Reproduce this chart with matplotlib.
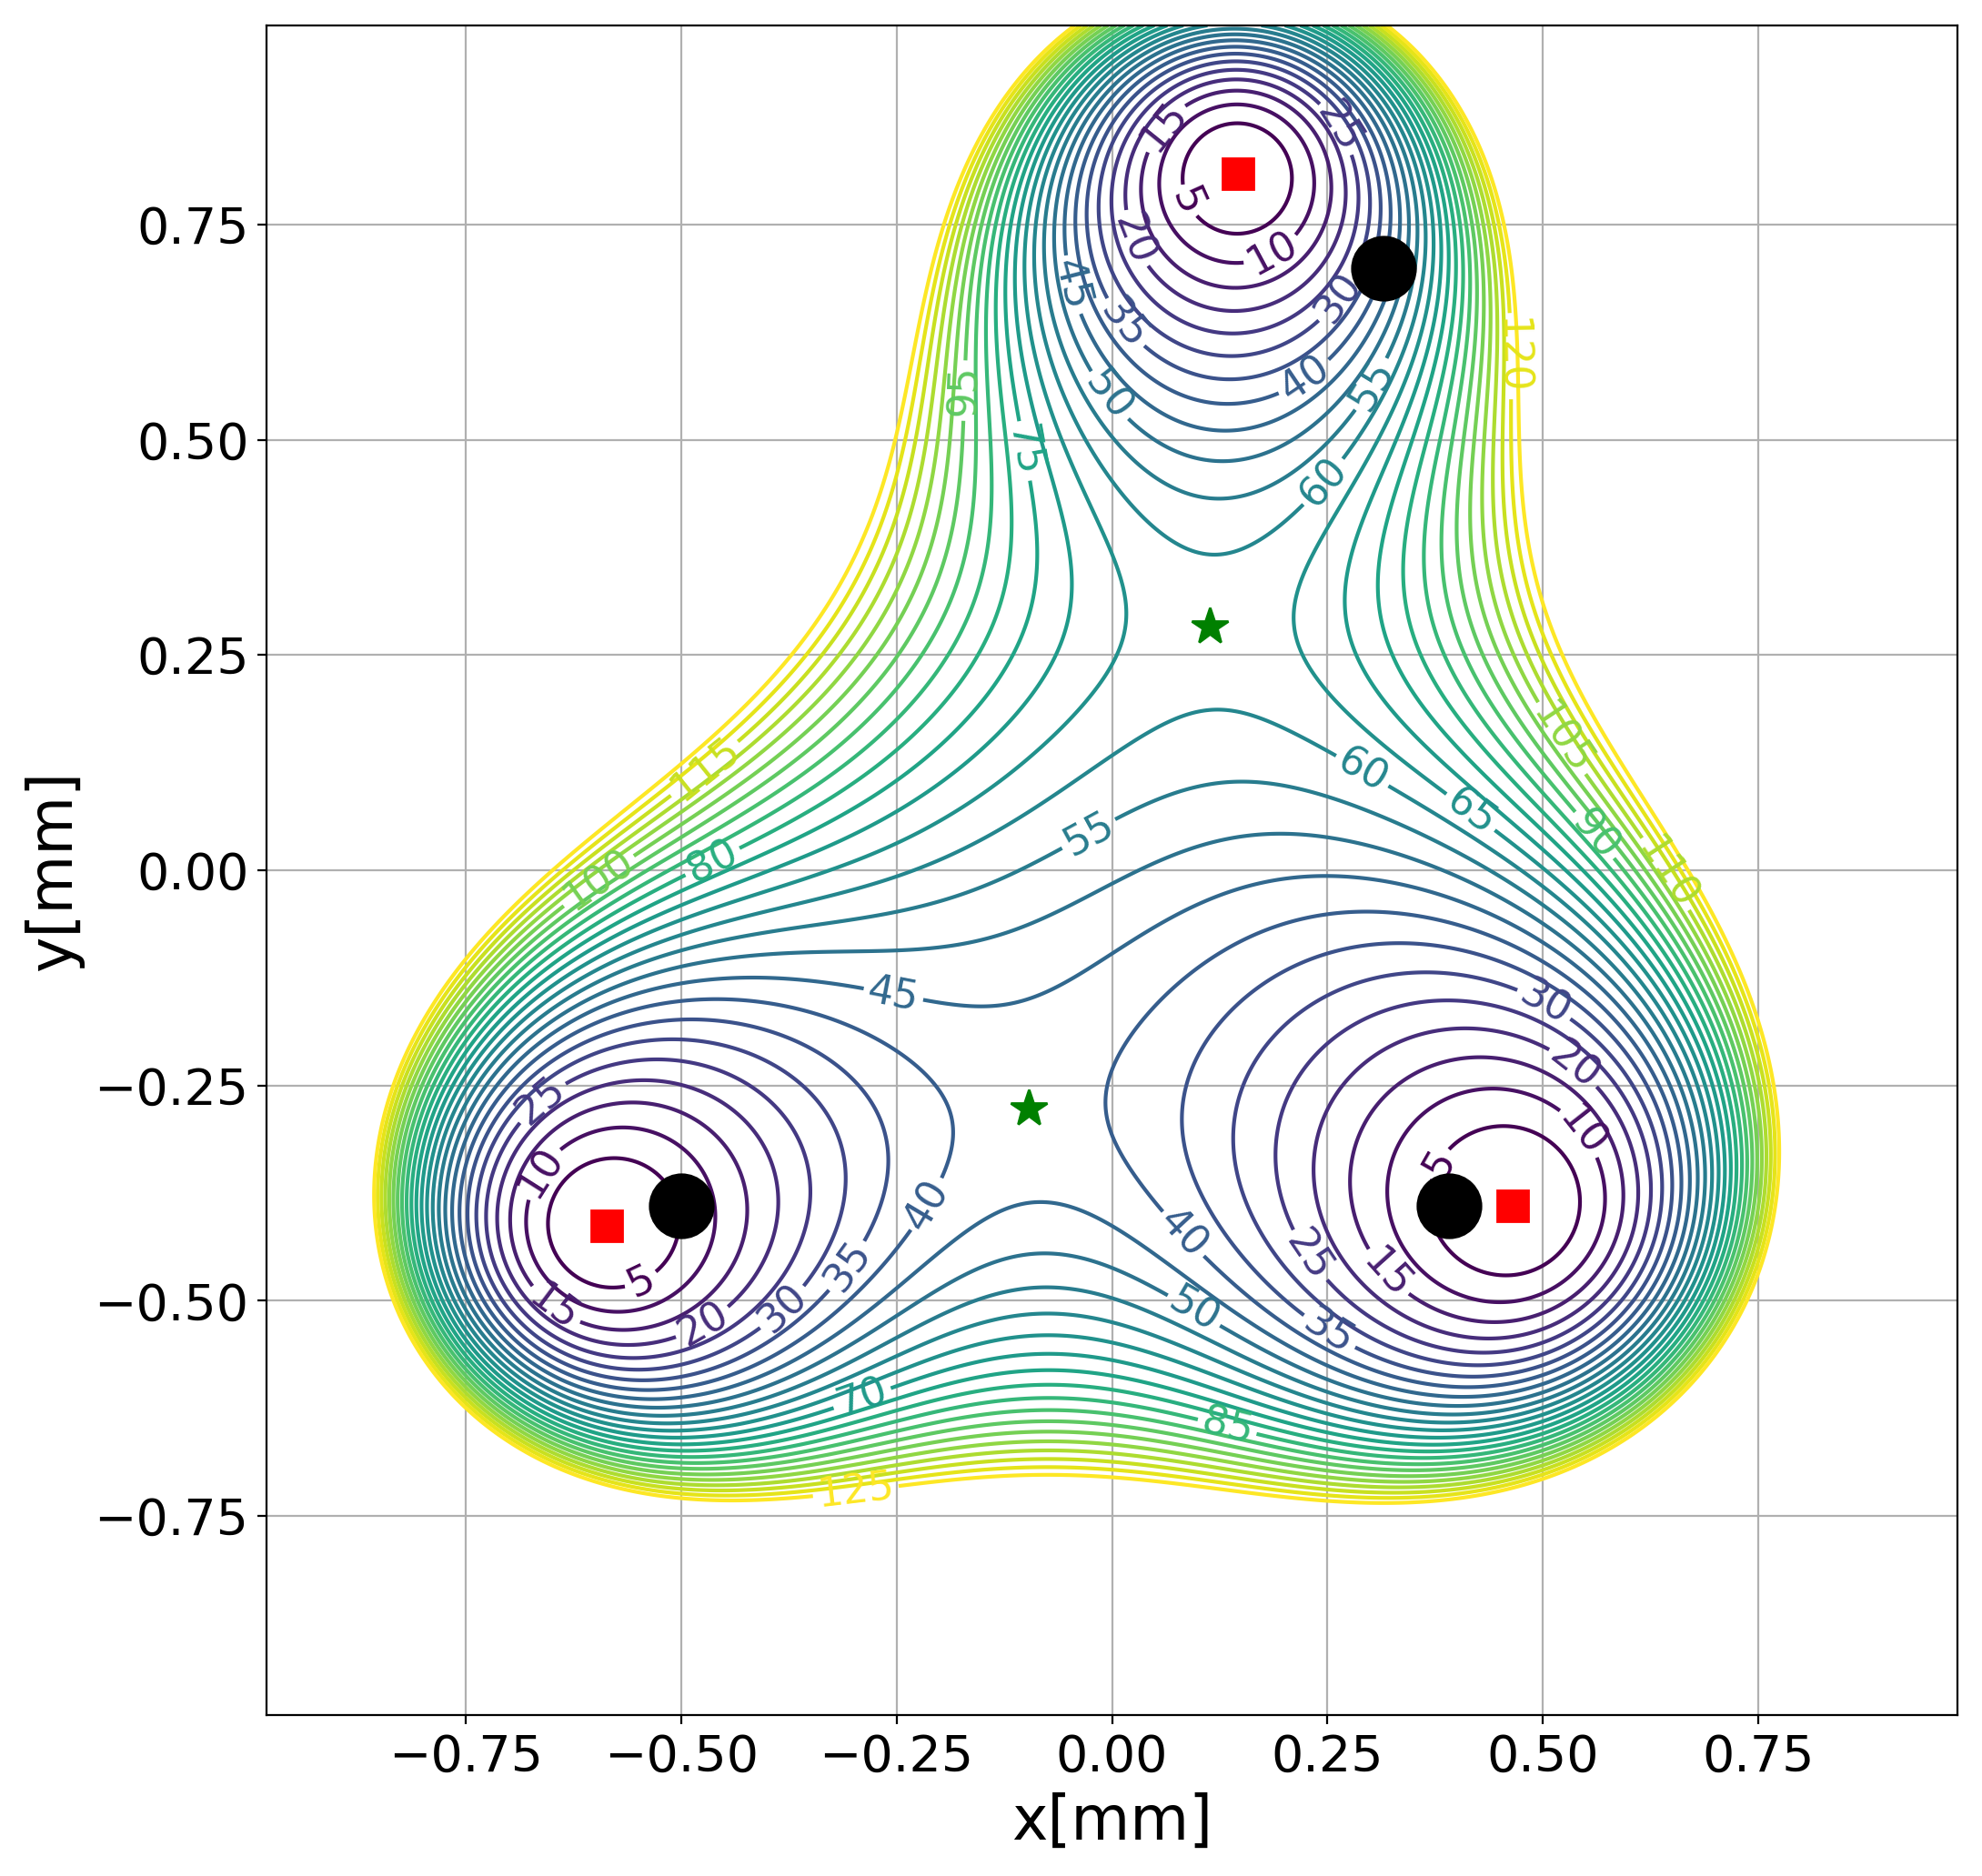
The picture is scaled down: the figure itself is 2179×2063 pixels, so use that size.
import numpy as np
import matplotlib
matplotlib.use("Agg")
import matplotlib.pyplot as plt

# well centres (red squares), in mm
well_x = [0.146, -0.586, 0.4645]
well_y = [0.809, -0.413, -0.3895]
# trap positions (black dots)
trap_x = [0.315, -0.500, 0.391]
trap_y = [0.699, -0.390, -0.390]
# saddle points (green stars)
saddle_x = [0.1135, -0.097]
saddle_y = [0.2827, -0.2768]

levels = np.arange(5, 130, 5)   # 5 ... 125
strength = 400.0                # scale of the potential
lim = 0.981

# where the contour labels sit in the reference
label_x = [0.058, 0.264, 0.090, 0.026, 0.186, 0.256, -0.045, 0.014, 0.224, 0.295,
           0.004, -0.172, -0.101, 0.464, 0.243, -0.472, 0.523, 0.289, 0.559, -0.028,
           0.412, -0.595, -0.464, 0.643, -0.253, 0.500, -0.666, 0.537, 0.548, 0.377,
           -0.664, -0.213, -0.308, 0.083, 0.228, -0.547, -0.648, 0.321, -0.385, -0.476,
           0.094, 0.252, -0.288, 0.133, -0.297]
label_y = [0.865, 0.863, 0.778, 0.733, 0.716, 0.670, 0.680, 0.635, 0.571, 0.568,
           0.557, 0.557, 0.487, 0.597, 0.453, 0.117, 0.154, 0.113, 0.040, 0.044,
           0.062, -0.013, 0.011, -0.004, -0.141, -0.158, -0.264, -0.227, -0.301, -0.339,
           -0.350, -0.389, -0.459, -0.422, -0.448, -0.475, -0.508, -0.466, -0.505, -0.524,
           -0.513, -0.536, -0.618, -0.649, -0.723]

x = np.linspace(-lim, lim, 600)
y = np.linspace(-lim, lim, 600)
X, Y = np.meshgrid(x, y)
Z = X + 1j * Y
p = np.ones_like(Z)
for wx, wy in zip(well_x, well_y):
    p = p * (Z - (wx + 1j * wy))
V = strength * np.abs(p) ** 2

fig = plt.figure(figsize=(2179 / 200, 2063 / 200), dpi=200)
ax = fig.add_axes([293 / 2179, 177 / 2063, 1859 / 2179, 1858 / 2063])

cs = ax.contour(X, Y, V, levels=levels, cmap="viridis", linewidths=1.5)
ax.clabel(cs, inline=True, fontsize=16, fmt="%d",
          manual=list(zip(label_x, label_y)))

ax.plot(well_x, well_y, "rs", markersize=12, zorder=5)
ax.plot(trap_x, trap_y, "ko", markersize=25, zorder=5)
ax.plot(saddle_x, saddle_y, "g*", markersize=15, zorder=5)

ax.set_xlim(-lim, lim)
ax.set_ylim(-lim, lim)
ax.set_xticks([-0.75, -0.5, -0.25, 0, 0.25, 0.5, 0.75])
ax.set_yticks([-0.75, -0.5, -0.25, 0, 0.25, 0.5, 0.75])
ax.tick_params(labelsize=20)
ax.set_xlabel("x[mm]", fontsize=24)
ax.set_ylabel("y[mm]", fontsize=24)
ax.grid(True)

fig.savefig("out.png", dpi=200)
